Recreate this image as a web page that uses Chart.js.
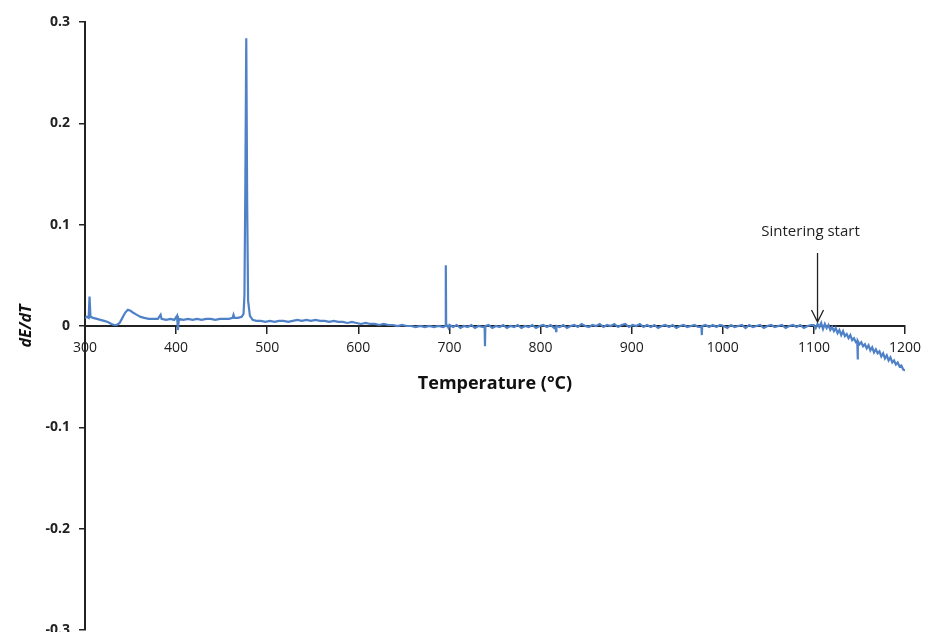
<!DOCTYPE html>
<html>
<head>
<meta charset="utf-8">
<script src="https://cdn.jsdelivr.net/npm/chart.js@4/dist/chart.umd.min.js"></script>
<style>
  html, body { margin: 0; padding: 0; background: #ffffff; }
  #wrap { width: 933px; height: 632px; }
</style>
</head>
<body>
<div id="wrap"><canvas id="c" width="933" height="632"></canvas></div>
<script>
// ---- Data ----
const temperature = [
  300, 302, 304, 305, 306, 309, 313, 317, 321, 325, 329, 332, 335, 338, 341, 344, 347, 350, 353, 357,
  361, 365, 370, 375, 380, 383, 384, 389, 394, 398, 401, 402, 403, 408, 413, 418, 423, 428, 433, 438,
  443, 448, 453, 458, 462, 463, 464, 468, 472, 474, 475, 476, 477, 478, 479, 481, 484, 488, 493, 498,
  503, 508, 513, 518, 523, 528, 533, 538, 543, 548, 553, 558, 563, 568, 573, 578, 583, 588, 593, 598,
  603, 608, 613, 618, 623, 628, 633, 638, 643, 648, 653, 658, 663, 668, 673, 678, 683, 688, 693, 695.6,
  696, 696.4, 699,
  700, 704, 708, 712, 716, 720, 724, 728, 732, 736, 738.6, 739, 739.4, 743, 747, 751, 755, 759, 763, 767,
  771, 775, 779, 783, 787, 791, 795, 799, 803, 807, 811, 815, 816.6, 817, 817.4, 821, 825, 829, 833, 837,
  841, 845, 849, 853, 857, 861, 865, 869, 873, 877, 881, 885, 889, 893, 897, 901, 905, 909, 913, 917,
  921, 925, 929, 933, 937, 941, 945, 949, 953, 957, 961, 965, 969, 973, 976.6, 977, 977.4, 981, 985, 989,
  993, 997, 1001, 1005, 1009, 1013, 1017, 1021, 1025, 1029, 1033, 1037, 1041, 1045, 1049, 1053, 1057, 1061, 1065, 1069,
  1073, 1077, 1081, 1085, 1089, 1093, 1097,
  1100, 1102, 1104, 1106, 1108, 1110, 1112, 1114, 1116, 1118, 1120, 1122, 1124, 1126, 1128, 1130, 1132, 1134, 1136, 1138,
  1140, 1142, 1144, 1146, 1147.6, 1148, 1148.4, 1150, 1152, 1154, 1156, 1158, 1160, 1162, 1164, 1166, 1168, 1170, 1172, 1174,
  1176, 1178, 1180, 1182, 1184, 1186, 1188, 1190, 1192, 1194, 1196, 1198, 1200
];
const dEdT = [
  0.008, 0.009, 0.008, 0.029, 0.009, 0.008, 0.007, 0.006, 0.005, 0.004, 0.002, 0.001, 0.001, 0.003, 0.008, 0.013, 0.016, 0.015, 0.013, 0.011,
  0.009, 0.008, 0.007, 0.007, 0.007, 0.011, 0.007, 0.006, 0.007, 0.006, 0.010, -0.004, 0.007, 0.006, 0.007, 0.006, 0.007, 0.006, 0.007, 0.007,
  0.006, 0.007, 0.007, 0.007, 0.008, 0.011, 0.008, 0.008, 0.009, 0.012, 0.030, 0.140, 0.284, 0.120, 0.025, 0.010, 0.006, 0.005, 0.005, 0.004,
  0.005, 0.004, 0.005, 0.005, 0.004, 0.005, 0.006, 0.005, 0.006, 0.005, 0.006, 0.005, 0.005, 0.004, 0.005, 0.004, 0.004, 0.003, 0.004, 0.003,
  0.002, 0.003, 0.002, 0.002, 0.001, 0.002, 0.001, 0.001, 0.000, 0.001, 0.000, 0.000, -0.001, 0.000, -0.001, 0.000, -0.001, 0.000, -0.001, 0.000,
  0.060, 0.002, -0.002,
  0.001, -0.001, 0.001, -0.002, 0.000, -0.001, 0.001, -0.002, 0.000, -0.001, -0.001, -0.020, 0.000, 0.001, -0.002, 0.000, -0.001, 0.001, -0.002, 0.000,
  -0.001, 0.001, -0.002, 0.000, -0.001, 0.001, -0.002, 0.000, 0.001, -0.001, 0.001, -0.002, -0.001, -0.005, 0.000, -0.001, 0.001, -0.002, 0.000, 0.001,
  -0.001, 0.002, 0.000, -0.001, 0.001, 0.000, 0.002, -0.001, 0.001, 0.000, 0.002, -0.001, 0.001, 0.002, -0.001, 0.001, 0.000, 0.002, -0.001, 0.001,
  -0.001, 0.001, -0.002, 0.000, 0.001, -0.001, 0.001, -0.002, 0.000, 0.001, -0.001, 0.000, 0.001, -0.001, -0.001, -0.009, 0.000, 0.001, -0.001, 0.001,
  -0.001, 0.001, 0.000, -0.002, 0.001, -0.001, 0.000, 0.001, -0.002, 0.001, -0.001, 0.000, 0.001, -0.002, 0.000, 0.001, -0.001, 0.000, 0.001, -0.002,
  0.000, 0.001, -0.001, 0.001, -0.002, 0.000, 0.001,
  0.001, -0.002, 0.002, -0.001, 0.003, -0.003, 0.002, -0.002, 0.001, -0.004, -0.001, -0.005, -0.002, -0.007, -0.004, -0.009, -0.005, -0.010, -0.008, -0.012,
  -0.009, -0.014, -0.012, -0.016, -0.015, -0.033, -0.015, -0.018, -0.016, -0.020, -0.018, -0.022, -0.019, -0.024, -0.021, -0.026, -0.023, -0.027, -0.025, -0.030,
  -0.027, -0.032, -0.029, -0.034, -0.031, -0.036, -0.034, -0.038, -0.036, -0.040, -0.039, -0.043, -0.044
];
const xTicks = [300, 400, 500, 600, 700, 800, 900, 1000, 1100, 1200];
const yTicks = [-0.3, -0.2, -0.1, 0, 0.1, 0.2, 0.3];
const yTickLabels = ['-0.3', '-0.2', '-0.1', '0', '0.1', '0.2', '0.3'];
const xTitle = 'Temperature (°C)';
const yTitle = 'dE/dT';
const note = { text: 'Sintering start', x: 1104, textY: 0.093, arrowFrom: 0.072, arrowTo: 0.004 };

// ---- Annotation plugin (positions through the chart scales) ----
const annotationPlugin = {
  id: 'sinterNote',
  afterDatasetsDraw(chart) {
    const { ctx, scales: { x, y } } = chart;
    const px = x.getPixelForValue(note.x);
    const ty = y.getPixelForValue(note.textY);
    const y1 = y.getPixelForValue(note.arrowFrom);
    const y2 = y.getPixelForValue(note.arrowTo);
    ctx.save();
    ctx.fillStyle = '#222';
    ctx.font = '15px "Open Sans", sans-serif';
    ctx.textAlign = 'center';
    ctx.textBaseline = 'middle';
    ctx.fillText(note.text, px - 7, ty);
    ctx.strokeStyle = '#222';
    ctx.lineWidth = 1.3;
    ctx.beginPath();
    ctx.moveTo(px, y1);
    ctx.lineTo(px, y2);
    ctx.moveTo(px - 6, y2 - 12);
    ctx.lineTo(px, y2);
    ctx.lineTo(px + 6, y2 - 12);
    ctx.stroke();
    ctx.restore();
  }
};

const points = temperature.map((t, i) => ({ x: t, y: dEdT[i] }));

new Chart(document.getElementById('c'), {
  type: 'line',
  data: {
    datasets: [{
      label: yTitle,
      data: points,
      borderColor: '#4f81c7',
      borderWidth: 2.2,
      pointRadius: 0,
      tension: 0,
      fill: false
    }]
  },
  options: {
    responsive: false,
    animation: false,
    devicePixelRatio: 1,
    layout: { padding: { top: 22, right: 28, bottom: 2, left: 0 } },
    plugins: { legend: { display: false }, tooltip: { enabled: false } },
    scales: {
      x: {
        type: 'linear',
        min: 300,
        max: 1200,
        position: { y: 0 },
        afterBuildTicks: (s) => { s.ticks = xTicks.map(v => ({ value: v })); },
        grid: { display: true, drawOnChartArea: false, drawTicks: true, tickLength: 7, color: '#222', lineWidth: 1.5 },
        border: { display: true, color: '#222', width: 2 },
        ticks: {
          autoSkip: false, maxRotation: 0, padding: 7, color: '#1a1a1a',
          font: { family: '"Open Sans", sans-serif', size: 14 },
          callback: (v) => String(v)
        },
        title: {
          display: true, text: xTitle, color: '#111',
          font: { family: '"Open Sans", sans-serif', size: 18, weight: 'bold' },
          padding: { top: 9, bottom: 0 }
        }
      },
      y: {
        type: 'linear',
        min: -0.3,
        max: 0.3,
        position: 'left',
        afterBuildTicks: (s) => { s.ticks = yTicks.map(v => ({ value: v })); },
        afterFit: (s) => { s.width = 85; s.paddingTop = 0; s.paddingBottom = 0; },
        grid: { display: true, drawOnChartArea: false, drawTicks: true, tickLength: 6, color: '#222', lineWidth: 1.5 },
        border: { display: true, color: '#222', width: 2 },
        ticks: {
          padding: 9, color: '#222',
          font: { family: '"Open Sans", sans-serif', size: 14, weight: 'bold' },
          callback: (v, i) => yTickLabels[i]
        },
        title: {
          display: true, text: yTitle, color: '#111',
          font: { family: '"Open Sans", sans-serif', size: 16, weight: 'bold', style: 'italic' },
          padding: { top: 17, bottom: 0 }
        }
      }
    }
  },
  plugins: [annotationPlugin]
});
</script>
</body>
</html>
